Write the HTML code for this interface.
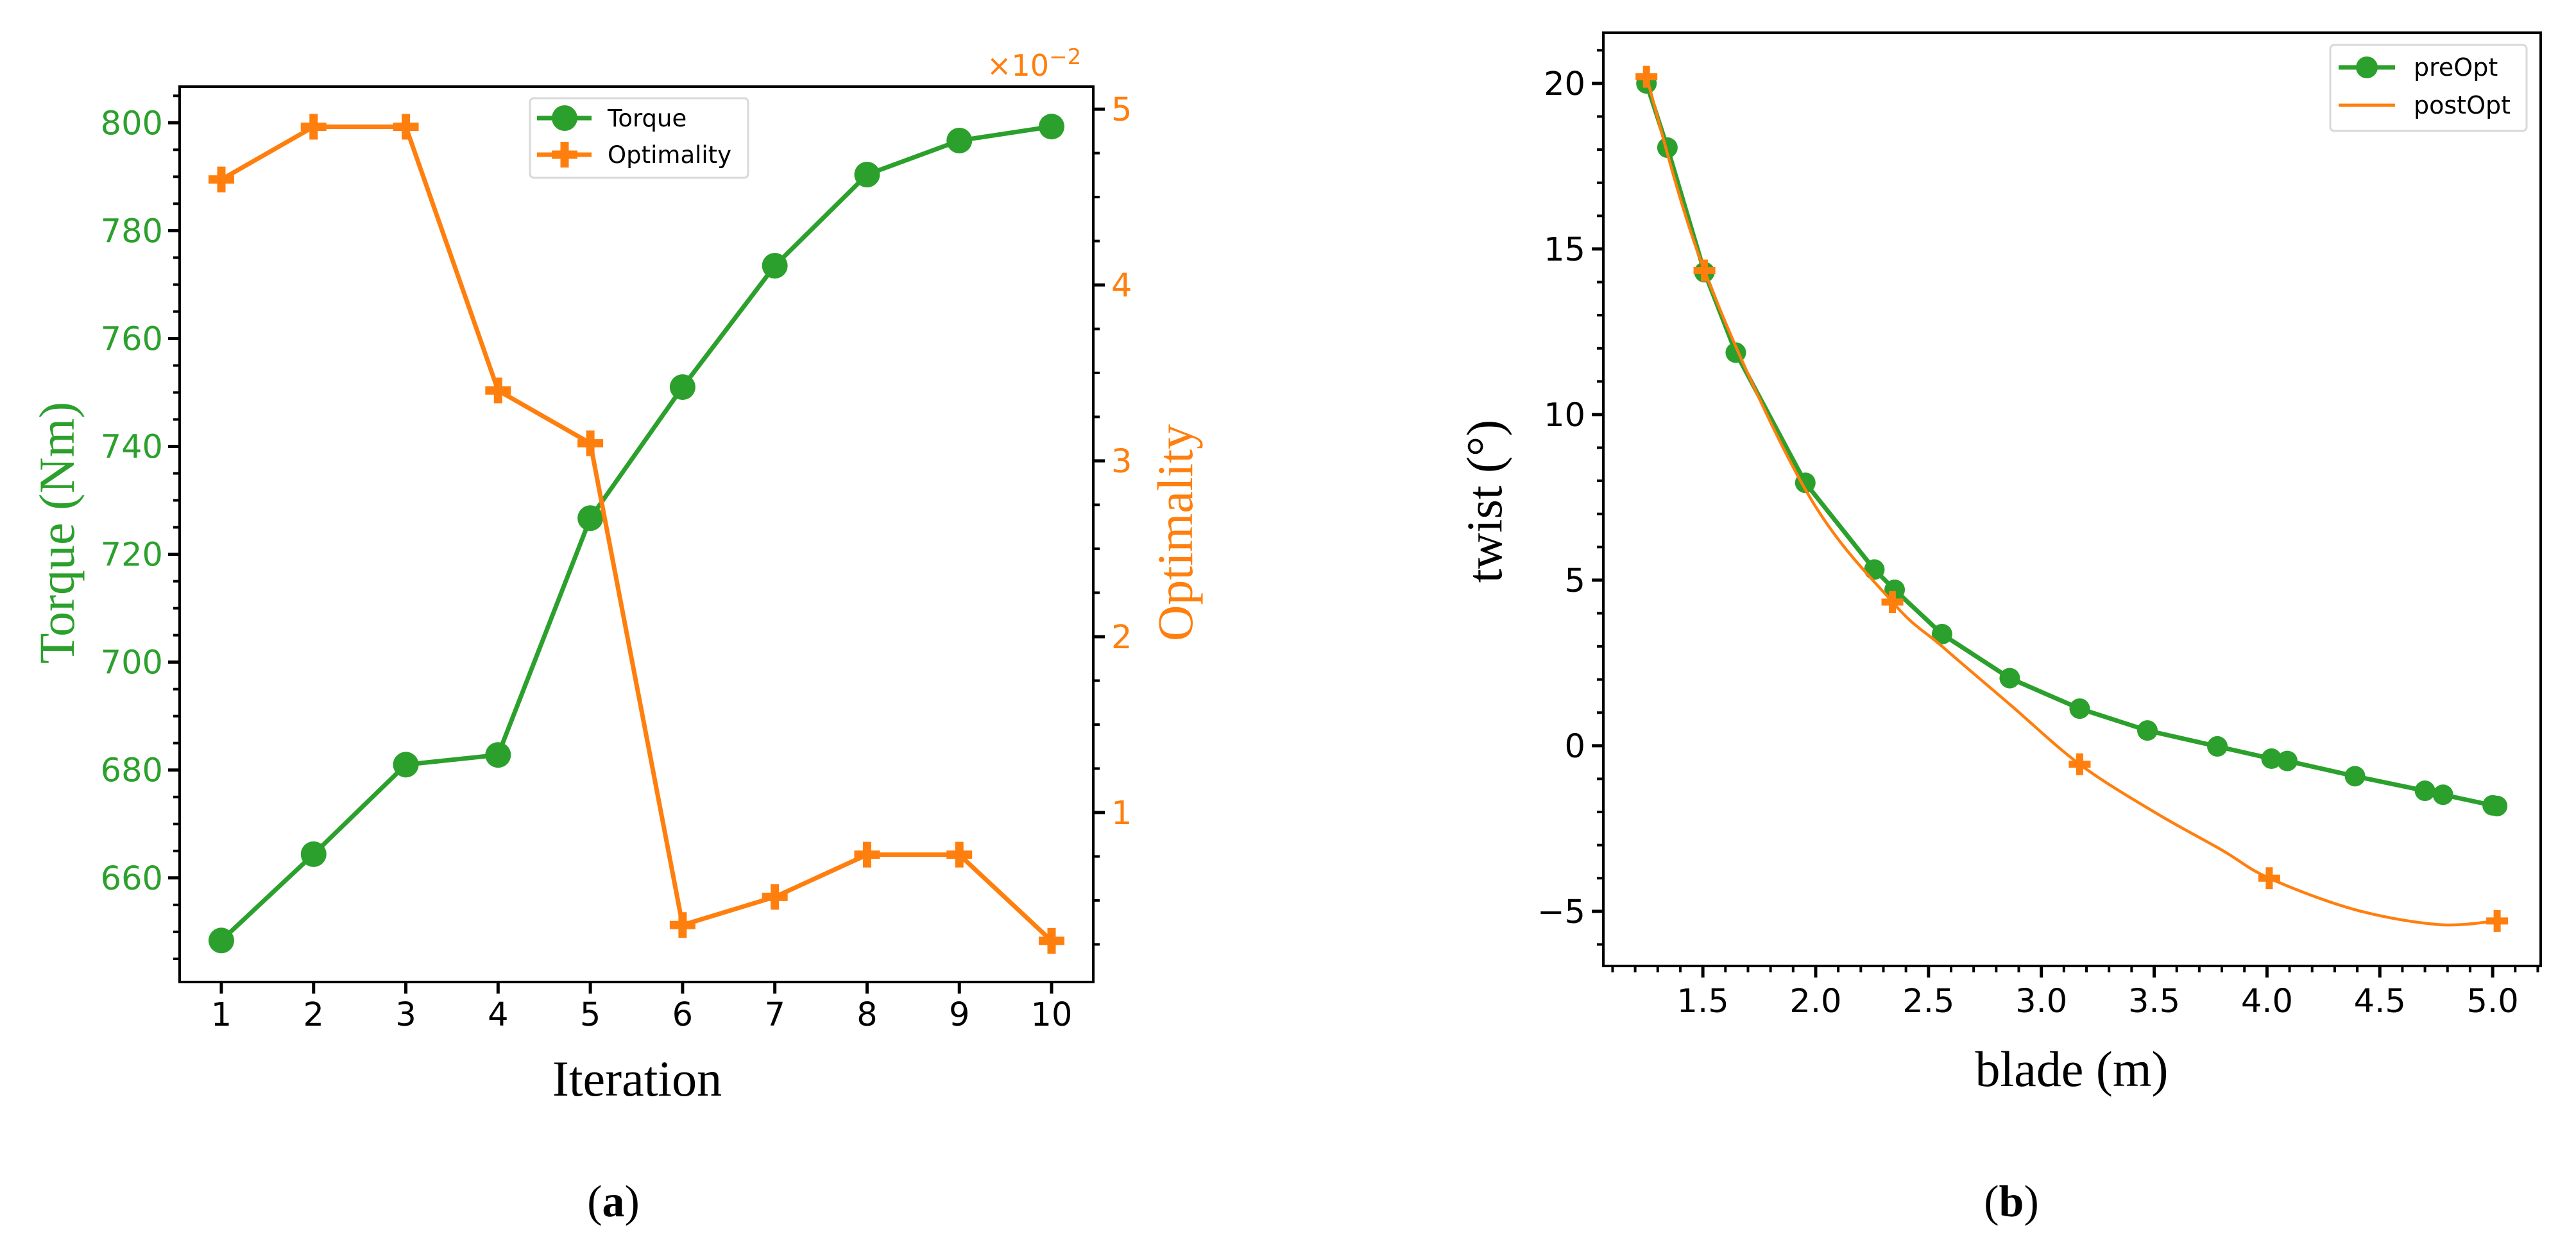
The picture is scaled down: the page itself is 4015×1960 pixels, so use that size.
<!DOCTYPE html>
<html><head><meta charset="utf-8"><style>
html,body{margin:0;padding:0;background:#fff;}
svg{display:block;}
</style></head><body>
<svg id="fig" width="4015" height="1960" viewBox="0 0 4015 1960" xmlns="http://www.w3.org/2000/svg">
<rect width="4015" height="1960" fill="#fff"/>
<g id="chartA"></g>
<g id="chartB"></g>
</svg>
<script>
// ---- Chart A data ----
const iterations = [1,2,3,4,5,6,7,8,9,10];
const torqueValues = [648.4,664.4,681.0,682.8,726.7,751.0,773.5,790.4,796.7,799.3];
const optimalityValues = [4.60,4.90,4.90,3.40,3.10,0.36,0.52,0.76,0.76,0.27];
const torqueTicks = [660,680,700,720,740,760,780,800];
const optTicks = [1,2,3,4,5];
const iterTicks = [1,2,3,4,5,6,7,8,9,10];
// ---- Chart B data ----
const preX = [1.25,1.343,1.507,1.646,1.954,2.26,2.35,2.56,2.86,3.17,3.47,3.78,4.02,4.09,4.39,4.70,4.78,5.00,5.02];
const preY = [20.0,18.06,14.3,11.87,7.94,5.32,4.71,3.37,2.04,1.12,0.46,-0.02,-0.39,-0.46,-0.92,-1.36,-1.48,-1.80,-1.82];
const postCurveX = [1.25,1.507,1.954,2.34,2.56,2.86,3.17,3.5,3.8,4.01,4.39,4.76,5.02];
const postCurveY = [20.2,14.35,7.74,4.34,3.0,1.25,-0.56,-2.0,-3.15,-4.0,-4.95,-5.4,-5.29];
const postMarkX = [1.25,1.507,2.34,3.17,4.01,5.02];
const postMarkY = [20.2,14.35,4.34,-0.56,-4.0,-5.29];
const twistTicks = [-5,0,5,10,15,20];
const bladeTicks = [1.5,2.0,2.5,3.0,3.5,4.0,4.5,5.0];

const NS="http://www.w3.org/2000/svg";
const GREEN="#2ca02c", ORANGE="#ff7f0e";
function mk(tag, attrs, parent){const e=document.createElementNS(NS,tag);for(const k in attrs)e.setAttribute(k,attrs[k]);parent.appendChild(e);return e;}
function lin(d0,d1,r0,r1){return v=>r0+(v-d0)*(r1-r0)/(d1-d0);}
const FS=51;

// ================= Chart A =================
(function(){
const g=document.getElementById('chartA');
const L=280,R=1704,T=135,B=1530;
const x=lin(0.548,10.452,L,R);
const yT=lin(640.7,806.7,B,T);
const yO=lin(0.036,5.128,B,T);
const tf='"DejaVu Sans","Liberation Sans",sans-serif';
for(let v=645;v<=805;v+=5){
  const major=(v%20===0);
  const t=mk('line',{x1:L,x2:L-(major?18:10),y1:yT(v),y2:yT(v),stroke:'#000','stroke-width':major?5:4},g);
  
  
}
torqueTicks.forEach(v=>{
  const t=mk('text',{x:L-26,y:yT(v)+18,'text-anchor':'end','font-family':tf,'font-size':FS,fill:GREEN},g);
  t.textContent=v;
  
  
});
for(let v=0.25;v<=5.01;v+=0.25){
  const major=Math.abs(v-Math.round(v))<1e-6;
  const t=mk('line',{x1:R,x2:R+(major?18:10),y1:yO(v),y2:yO(v),stroke:'#000','stroke-width':major?5:4},g);
  
  
}
optTicks.forEach(v=>{
  const t=mk('text',{x:R+28,y:yO(v)+18,'font-family':tf,'font-size':FS,fill:ORANGE},g);
  t.textContent=v;
  
  
});
const ex=mk('text',{x:1538,y:118,'font-family':tf,'font-size':46,fill:ORANGE},g);
ex.innerHTML='×10<tspan dy="-18" font-size="34">−2</tspan>';


iterTicks.forEach(v=>{
  const t=mk('line',{x1:x(v),x2:x(v),y1:B,y2:B+18,stroke:'#000','stroke-width':5},g);
  
  
  const l=mk('text',{x:x(v),y:1598,'text-anchor':'middle','font-family':tf,'font-size':FS,fill:'#000'},g);
  l.textContent=v;
  
  
});
const fr=mk('rect',{x:L,y:T,width:R-L,height:B-T,fill:'none',stroke:'#000','stroke-width':4},g);


const tp=mk('polyline',{points:iterations.map((v,i)=>x(v)+','+yT(torqueValues[i])).join(' '),fill:'none',stroke:GREEN,'stroke-width':7},g);


iterations.forEach((v,i)=>{
  const c=mk('circle',{cx:x(v),cy:yT(torqueValues[i]),r:20,fill:GREEN},g);
  
  
});
const op=mk('polyline',{points:iterations.map((v,i)=>x(v)+','+yO(optimalityValues[i])).join(' '),fill:'none',stroke:ORANGE,'stroke-width':7},g);


iterations.forEach((v,i)=>{
  const cx=x(v),cy=yO(optimalityValues[i]);
  const p=mk('path',{d:`M${cx-20},${cy}H${cx+20}M${cx},${cy-20}V${cy+20}`,stroke:ORANGE,'stroke-width':13,fill:'none'},g);
  
  
});
const lg=mk('g',{},g);


mk('rect',{x:826,y:153,width:340,height:124,rx:6,fill:'#fff','fill-opacity':0.85,stroke:'#d8d8d8','stroke-width':3},lg);
mk('line',{x1:837,x2:922,y1:184,y2:184,stroke:GREEN,'stroke-width':7},lg);
mk('circle',{cx:880,cy:184,r:20,fill:GREEN},lg);
mk('line',{x1:837,x2:922,y1:241,y2:241,stroke:ORANGE,'stroke-width':7},lg);
mk('path',{d:'M860,241H900M880,221V261',stroke:ORANGE,'stroke-width':13},lg);
const lt1=mk('text',{x:947,y:197,'font-family':tf,'font-size':37,fill:'#000'},lg);lt1.textContent='Torque';


const lt2=mk('text',{x:947,y:254,'font-family':tf,'font-size':37,fill:'#000'},lg);lt2.textContent='Optimality';


const sf='"Liberation Serif",serif';
const yl=mk('text',{x:0,y:0,'text-anchor':'middle','font-family':sf,'font-size':78,fill:GREEN,transform:'translate(115,830) rotate(-90)'},g);
yl.textContent='Torque (Nm)';


const yr=mk('text',{x:0,y:0,'text-anchor':'middle','font-family':sf,'font-size':78,fill:ORANGE,transform:'translate(1858,830) rotate(-90)'},g);
yr.textContent='Optimality';


const xl=mk('text',{x:993,y:1707,'text-anchor':'middle','font-family':sf,'font-size':78,fill:'#000'},g);
xl.textContent='Iteration';


const cap=mk('text',{x:956,y:1895,'text-anchor':'middle','font-family':sf,'font-size':70,fill:'#000'},g);
cap.innerHTML='(<tspan font-weight="bold">a</tspan>)';


})();

// ================= Chart B =================
(function(){
const g=document.getElementById('chartB');
const L=2499,R=3960,T=51,B=1505;
const x=lin(1.059,5.213,L,R);
const y=lin(-6.65,21.53,B,T);
const tf='"DejaVu Sans","Liberation Sans",sans-serif';
for(let v=-6;v<=21;v++){
  const major=(v%5===0);
  const t=mk('line',{x1:L,x2:L-(major?18:10),y1:y(v),y2:y(v),stroke:'#000','stroke-width':major?5:4},g);
  
  
}
twistTicks.forEach(v=>{
  const t=mk('text',{x:L-28,y:y(v)+18,'text-anchor':'end','font-family':tf,'font-size':FS,fill:'#000'},g);
  t.textContent=v<0?'−'+(-v):v;
  
  
});
for(let k=11;k<=52;k++){
  const v=k/10;
  const major=(k%5===0);
  const t=mk('line',{x1:x(v),x2:x(v),y1:B,y2:B+(major?18:10),stroke:'#000','stroke-width':major?5:4},g);
  
  
}
bladeTicks.forEach(v=>{
  const l=mk('text',{x:x(v),y:1577,'text-anchor':'middle','font-family':tf,'font-size':FS,fill:'#000'},g);
  l.textContent=v.toFixed(1);
  
  
});
const fr=mk('rect',{x:L,y:T,width:R-L,height:B-T,fill:'none',stroke:'#000','stroke-width':4},g);


const pp=mk('polyline',{points:preX.map((v,i)=>x(v)+','+y(preY[i])).join(' '),fill:'none',stroke:GREEN,'stroke-width':7},g);


preX.forEach((v,i)=>{
  const c=mk('circle',{cx:x(v),cy:y(preY[i]),r:16,fill:GREEN},g);
  
  
});
const P=postCurveX.map((v,i)=>[x(v),y(postCurveY[i])]);
let d='M'+P[0][0]+','+P[0][1];
for(let i=0;i<P.length-1;i++){
  const p0=P[Math.max(0,i-1)],p1=P[i],p2=P[i+1],p3=P[Math.min(P.length-1,i+2)];
  const c1=[p1[0]+(p2[0]-p0[0])/6,p1[1]+(p2[1]-p0[1])/6];
  const c2=[p2[0]-(p3[0]-p1[0])/6,p2[1]-(p3[1]-p1[1])/6];
  d+=`C${c1[0]},${c1[1]} ${c2[0]},${c2[1]} ${p2[0]},${p2[1]}`;
}
const po=mk('path',{d:d,fill:'none',stroke:ORANGE,'stroke-width':4.5},g);


postMarkX.forEach((v,i)=>{
  const cx=x(v),cy=y(postMarkY[i]);
  const p=mk('path',{d:`M${cx-17},${cy}H${cx+17}M${cx},${cy-17}V${cy+17}`,stroke:ORANGE,'stroke-width':11,fill:'none'},g);
  
  
});
const lg=mk('g',{},g);


mk('rect',{x:3632,y:70,width:306,height:134,rx:6,fill:'#fff','fill-opacity':0.85,stroke:'#d8d8d8','stroke-width':3},lg);
mk('line',{x1:3645,x2:3733,y1:105,y2:105,stroke:GREEN,'stroke-width':7},lg);
mk('circle',{cx:3689,cy:105,r:17,fill:GREEN},lg);
mk('line',{x1:3645,x2:3733,y1:164,y2:164,stroke:ORANGE,'stroke-width':5},lg);
const l1=mk('text',{x:3762,y:118,'font-family':tf,'font-size':38,fill:'#000'},lg);l1.textContent='preOpt';


const l2=mk('text',{x:3762,y:177,'font-family':tf,'font-size':38,fill:'#000'},lg);l2.textContent='postOpt';


const sf='"Liberation Serif",serif';
const yl=mk('text',{x:0,y:0,'text-anchor':'middle','font-family':sf,'font-size':78,fill:'#000',transform:'translate(2340,781) rotate(-90)'},g);
yl.textContent='twist (°)';


const xl=mk('text',{x:3229,y:1692,'text-anchor':'middle','font-family':sf,'font-size':78,fill:'#000'},g);
xl.textContent='blade (m)';


const cap=mk('text',{x:3135,y:1895,'text-anchor':'middle','font-family':sf,'font-size':70,fill:'#000'},g);
cap.innerHTML='(<tspan font-weight="bold">b</tspan>)';


})();
</script>
</body></html>
